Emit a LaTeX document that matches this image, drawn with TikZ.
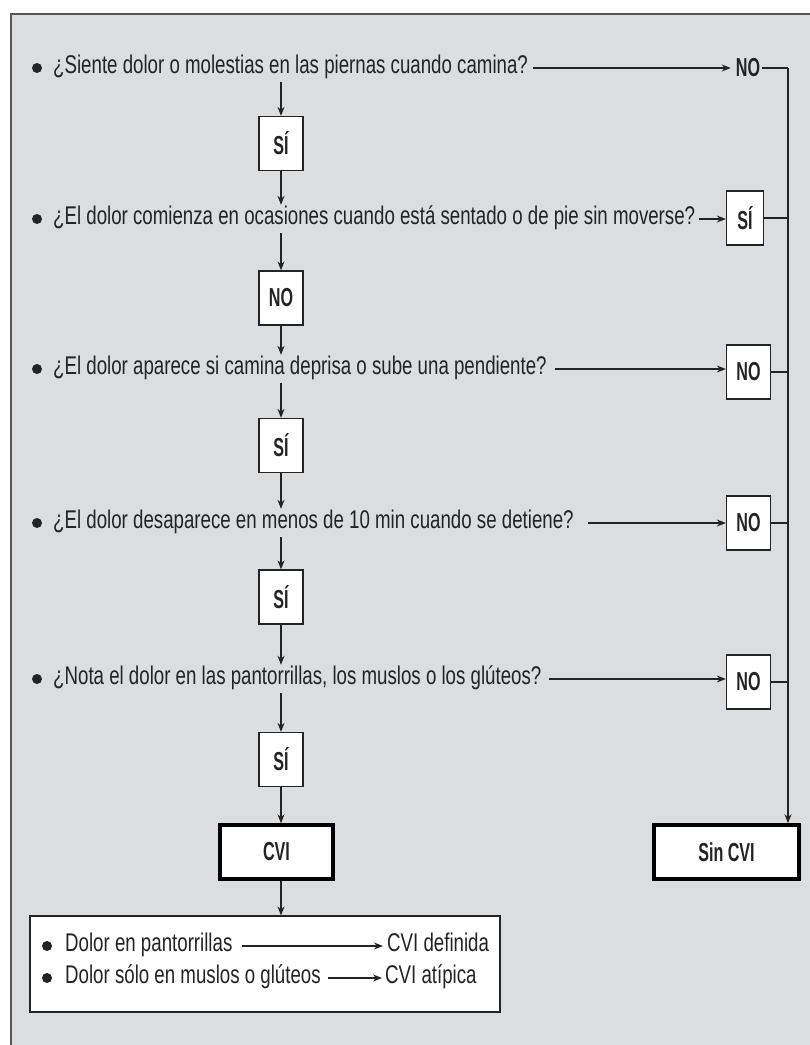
\documentclass[tikz,border=0pt]{standalone}
\usepackage{fontspec}
\setmainfont{Liberation Sans}[FakeStretch=0.73]
\newfontfamily\lblfont{Liberation Sans}[FakeStretch=0.62]
\usetikzlibrary{arrows.meta,calc}
\definecolor{bg}{RGB}{220,221,223}
\definecolor{ink}{RGB}{35,35,35}
\definecolor{framec}{RGB}{85,85,85}
\begin{document}
\begin{tikzpicture}[x=1pt,y=-1pt,
  every node/.style={text=ink},
  qtext/.style={anchor=west, inner xsep=0, inner ysep=3, text height=16, text depth=6, font=\fontsize{25.6}{30}\selectfont},
  btext/.style={anchor=west, inner xsep=0, inner ysep=3, text height=16, text depth=6, font=\fontsize{25.6}{30}\selectfont},
  bul/.style={circle, fill=ink, inner sep=0, minimum size=10},
  lbox/.style={draw=ink, line width=1.3, fill=white, minimum width=44, minimum height=54, inner sep=0, font=\fontsize{26}{30}\lblfont\bfseries},
  bigbox/.style={draw=black, line width=3.5, fill=white, minimum height=54, inner sep=0, font=\fontsize{26}{30}\lblfont\bfseries},
  plainlbl/.style={inner sep=2, font=\fontsize{26}{30}\lblfont\bfseries},
  arr/.style={-{Stealth[length=9,width=7]}, line width=1.2, draw=ink},
  conn/.style={line width=1.3, draw=ink}]
\useasboundingbox (0,0) rectangle (810,1045);
\fill[bg] (11,14) rectangle (810,1045);
\draw[framec, line width=2] (810,14) -- (11,14) -- (11,1045);

% questions
\node[bul] (d1) at (37,68) {};
\node[qtext] (q1) at (53,68) {¿Siente dolor o molestias en las piernas cuando camina?};
\node[bul] (d2) at (37,219) {};
\node[qtext] (q2) at (53,219) {¿El dolor comienza en ocasiones cuando está sentado o de pie sin moverse?};
\node[bul] (d3) at (37,369) {};
\node[qtext] (q3) at (53,369) {¿El dolor aparece si camina deprisa o sube una pendiente?};
\node[bul] (d4) at (37,523) {};
\node[qtext] (q4) at (53,523) {¿El dolor desaparece en menos de 10 min cuando se detiene?};
\node[bul] (d5) at (37,679) {};
\node[qtext] (q5) at (53,679) {¿Nota el dolor en las pantorrillas, los muslos o los glúteos?};

% left column boxes
\node[lbox] (b1) at (281,143.5) {SÍ};
\node[lbox] (b2) at (281,298) {NO};
\node[lbox] (b3) at (281,445.5) {SÍ};
\node[lbox] (b4) at (281,597) {SÍ};
\node[lbox] (b5) at (281,759.5) {SÍ};
\node[bigbox, minimum width=113] (cvi) at (276.5,852) {CVI};

% right column
\node[plainlbl] (no1) at (748,68) {NO};
\node[lbox, minimum width=37] (s2) at (745,218) {SÍ};
\node[lbox] (n3) at (748.5,372) {NO};
\node[lbox] (n4) at (748.5,523) {NO};
\node[lbox] (n5) at (748.5,682) {NO};
\node[bigbox, minimum width=145] (sin) at (726.5,852) {Sin CVI};
\coordinate (rt) at (788,68);

% bottom box
\node[draw=ink, line width=1.2, fill=white, minimum width=470, minimum height=96, inner sep=0] (bot) at (265,964) {};
\node[bul] (e1) at (47,946) {};
\node[btext] (t1) at (65,946) {Dolor en pantorrillas};
\node[btext] (r1) at (387,946) {CVI definida};
\node[bul] (e2) at (47,978) {};
\node[btext] (t2) at (65,978) {Dolor sólo en muslos o glúteos};
\node[btext] (r2) at (385,978) {CVI atípica};

% vertical arrows, left column
\draw[arr] (q1.south -| b1) -- (b1.north);
\draw[arr] (b1.south) -- (b1.south |- q2.north);
\draw[arr] (q2.south -| b2) -- (b2.north);
\draw[arr] (b2.south) -- (b2.south |- q3.north);
\draw[arr] (q3.south -| b3) -- (b3.north);
\draw[arr] (b3.south) -- (b3.south |- q4.north);
\draw[arr] (q4.south -| b4) -- (b4.north);
\draw[arr] (b4.south) -- (b4.south |- q5.north);
\draw[arr] (q5.south -| b5) -- (b5.north);
\draw[arr] (b5.south) -- (b5.south |- cvi.north);
\draw[arr] (cvi.south -| b5) -- (b5 |- bot.north);

% horizontal arrows
\draw[arr, shorten <=5, shorten >=3] (q1.east) -- (no1.west);
\draw[arr, shorten <=4] (q2.east) -- (q2.east -| s2.west);
\draw[arr, shorten <=8] (q3.east) -- (q3.east -| n3.west);
\draw[arr, shorten <=14] (q4.east) -- (q4.east -| n4.west);
\draw[arr, shorten <=7] (q5.east) -- (q5.east -| n5.west);

% right collector
\draw[conn] (no1.east) -- (rt);
\draw[arr] (rt) -- (rt |- sin.north);
\draw[conn] (s2.east) -- (s2.east -| rt);
\draw[conn] (n3.east) -- (n3.east -| rt);
\draw[conn] (n4.east) -- (n4.east -| rt);
\draw[conn] (n5.east) -- (n5.east -| rt);

% bottom arrows
\draw[arr, shorten <=9, shorten >=4] (t1.east) -- (r1.west);
\draw[arr, shorten <=7, shorten >=3] (t2.east) -- (r2.west);
\end{tikzpicture}
\end{document}
